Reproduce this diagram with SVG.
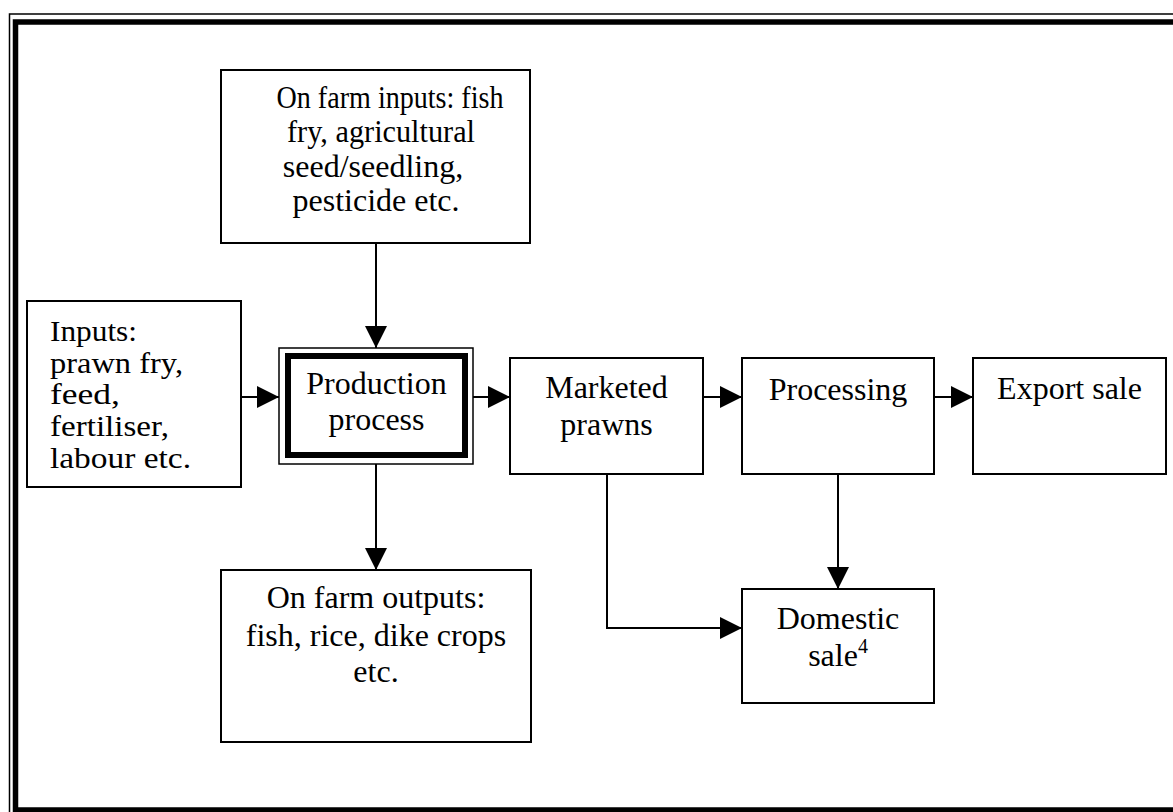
<svg xmlns="http://www.w3.org/2000/svg" width="1173" height="812" viewBox="0 0 1173 812">
<style>
.box{fill:#fff;stroke:#000;stroke-width:2}
.t{font-family:"Liberation Serif","Times New Roman",serif;font-size:32px;fill:#000}
.s{font-size:28.5px}
.m{text-anchor:middle}
.c{fill:none;stroke:#000;stroke-width:2}
</style>
<defs>
<marker id="ah" markerUnits="userSpaceOnUse" markerWidth="22" markerHeight="22" refX="22" refY="11" orient="auto">
<path d="M0,0 L22,11 L0,22 Z" fill="#000"/>
</marker>
</defs>
<rect width="1173" height="812" fill="#fff"/>
<g id="frame">
<rect x="9.5" y="14" width="1180" height="815" fill="none" stroke="#000" stroke-width="1.5"/>
<rect x="15.5" y="22" width="1170" height="788" fill="none" stroke="#000" stroke-width="5.5"/>
</g>
<g id="connectors">
<line class="c" x1="376" y1="243" x2="376" y2="348" marker-end="url(#ah)"/>
<line class="c" x1="241" y1="397" x2="279" y2="397" marker-end="url(#ah)"/>
<line class="c" x1="473" y1="397" x2="510" y2="397" marker-end="url(#ah)"/>
<line class="c" x1="703" y1="397" x2="742" y2="397" marker-end="url(#ah)"/>
<line class="c" x1="934" y1="397" x2="973" y2="397" marker-end="url(#ah)"/>
<line class="c" x1="376" y1="464" x2="376" y2="570" marker-end="url(#ah)"/>
<line class="c" x1="838" y1="474" x2="838" y2="589" marker-end="url(#ah)"/>
<polyline class="c" points="607,474 607,628 742,628" marker-end="url(#ah)"/>
</g>
<g id="on-farm-inputs">
<rect class="box" x="221" y="70" width="309" height="173"/>
<text class="t m" x="390" y="108" textLength="227" lengthAdjust="spacingAndGlyphs">On farm inputs: fish</text>
<text class="t m" x="381" y="142" textLength="188" lengthAdjust="spacingAndGlyphs">fry, agricultural</text>
<text class="t m" x="373" y="177">seed/seedling,</text>
<text class="t m" x="376" y="211">pesticide etc.</text>
</g>
<g id="inputs">
<rect class="box" x="27" y="301" width="214" height="186"/>
<text class="t s" x="50" y="341" textLength="87" lengthAdjust="spacingAndGlyphs">Inputs:</text>
<text class="t s" x="50" y="373" textLength="133" lengthAdjust="spacingAndGlyphs">prawn fry,</text>
<text class="t s" x="50" y="404" textLength="70" lengthAdjust="spacingAndGlyphs">feed,</text>
<text class="t s" x="50" y="436" textLength="119" lengthAdjust="spacingAndGlyphs">fertiliser,</text>
<text class="t s" x="50" y="468" textLength="141" lengthAdjust="spacingAndGlyphs">labour etc.</text>
</g>
<g id="production">
<rect x="279" y="348" width="194" height="116" fill="#fff" stroke="#000" stroke-width="1.5"/>
<rect x="288" y="356" width="177" height="99" fill="#fff" stroke="#000" stroke-width="6"/>
<text class="t m" x="376.5" y="394">Production</text>
<text class="t m" x="376.5" y="430">process</text>
</g>
<g id="marketed">
<rect class="box" x="510" y="358" width="193" height="116"/>
<text class="t m" x="606.5" y="398">Marketed</text>
<text class="t m" x="606.5" y="435">prawns</text>
</g>
<g id="processing">
<rect class="box" x="742" y="358" width="192" height="116"/>
<text class="t m" x="838" y="400">Processing</text>
</g>
<g id="export">
<rect class="box" x="973" y="358" width="193" height="116"/>
<text class="t m" x="1069.5" y="399">Export sale</text>
</g>
<g id="domestic">
<rect class="box" x="742" y="589" width="192" height="114"/>
<text class="t m" x="838" y="629">Domestic</text>
<text class="t m" x="838" y="666">sale<tspan font-size="20" dy="-13">4</tspan></text>
</g>
<g id="on-farm-outputs">
<rect class="box" x="221" y="570" width="310" height="172"/>
<text class="t m" x="376" y="608">On farm outputs:</text>
<text class="t m" x="376" y="646">fish, rice, dike crops</text>
<text class="t m" x="376" y="682">etc.</text>
</g>
</svg>
